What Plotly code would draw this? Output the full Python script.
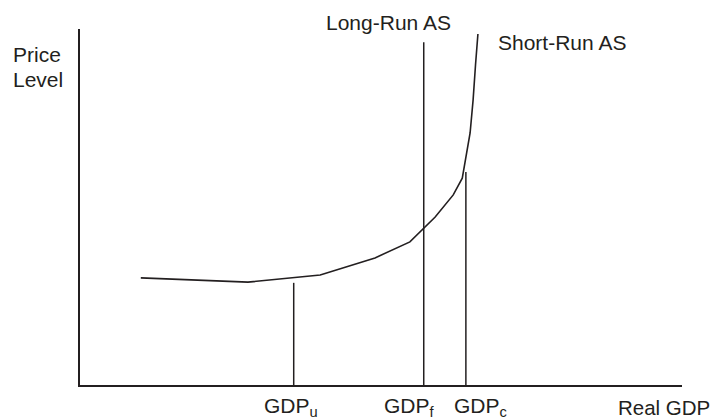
import plotly.graph_objects as go

# Data (abstract units: Real GDP 0-100, Price level 0-100)
sras_gdp = [10.1, 27.9, 39.9, 49.0, 54.8, 59.0, 62.0, 63.5, 64.8, 65.3, 65.7, 66.1]
sras_price = [30.1, 28.9, 30.9, 35.7, 40.2, 47.2, 53.4, 58.1, 70.8, 80.1, 89.9, 98.6]

lras_gdp = 57.1
lras_top = 96.3
gdp_u = 35.5
gdp_u_top = 28.7
gdp_c = 64.1
gdp_c_top = 59.8

# page body has an 8px margin; size the figure so it fills the window exactly
OFF = 8
W, H = 723 - OFF, 420 - OFF
ML, MR, MT, MB = 80 - OFF, 41, 29 - OFF, 35
INK = "#231f20"
FAMILY = "Liberation Sans, Arial, Helvetica, sans-serif"

fig = go.Figure()
fig.add_trace(go.Scatter(x=sras_gdp, y=sras_price, mode="lines",
                         line=dict(color=INK, width=1.6), hoverinfo="skip"))
fig.add_trace(go.Scatter(x=[lras_gdp, lras_gdp], y=[0, lras_top], mode="lines",
                         line=dict(color=INK, width=1.5), hoverinfo="skip"))
fig.add_trace(go.Scatter(x=[gdp_u, gdp_u], y=[0, gdp_u_top], mode="lines",
                         line=dict(color=INK, width=1.5), hoverinfo="skip"))
fig.add_trace(go.Scatter(x=[gdp_c, gdp_c], y=[0, gdp_c_top], mode="lines",
                         line=dict(color=INK, width=1.5), hoverinfo="skip"))


def px(xp):
    return (xp - OFF - ML) / (W - ML - MR)


def py(yp):
    return (H - MB - (yp - OFF)) / (H - MT - MB)


def label(text, xl, yc, anchor="left", size=21):
    fig.add_annotation(text=text, xref="paper", yref="paper", x=px(xl), y=py(yc),
                       xanchor=anchor, yanchor="middle", showarrow=False,
                       font=dict(family=FAMILY, size=size, color=INK))


label("Price", 11, 55)
label("Level", 11, 80)
label("Long-Run AS", 324, 22)
label("Short-Run AS", 496, 42)
label("GDP<sub>u</sub>", 262, 407)
label("GDP<sub>f</sub>", 382, 407)
label("GDP<sub>c</sub>", 452, 407)
label("Real GDP", 712, 407, anchor="right", size=20.5)

fig.update_xaxes(range=[0, 100], showline=True, linecolor=INK, linewidth=1.5,
                 showgrid=False, zeroline=False, showticklabels=False, ticks="")
fig.update_yaxes(range=[0, 100], showline=True, linecolor=INK, linewidth=1.5,
                 showgrid=False, zeroline=False, showticklabels=False, ticks="")
fig.update_layout(width=W, height=H, margin=dict(l=ML, r=MR, t=MT, b=MB, pad=0),
                  plot_bgcolor="white", paper_bgcolor="white", showlegend=False)

fig.write_html("out.html")
